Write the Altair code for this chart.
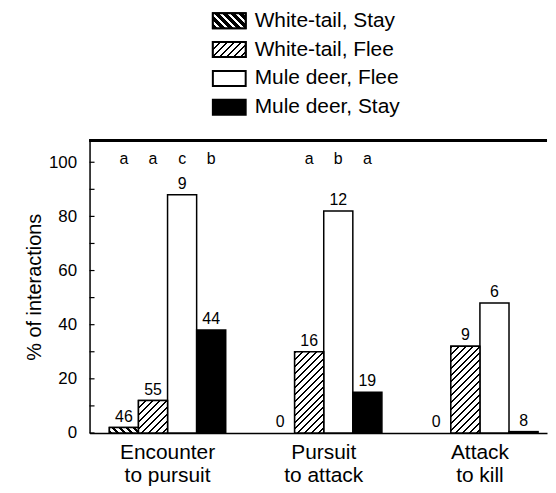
import math
import altair as alt
import pandas as pd

# ---- data ----
stages = ["Encounter to pursuit", "Pursuit to attack", "Attack to kill"]
series = ["White-tail, Stay", "White-tail, Flee", "Mule deer, Flee", "Mule deer, Stay"]

wt_stay = [2, 0, 0]
wt_flee = [12, 30, 32]
md_flee = [88, 82, 48]
md_stay = [38, 15, 0.5]

wt_stay_n = [46, 0, 0]
wt_flee_n = [55, 16, 9]
md_flee_n = [9, 12, 6]
md_stay_n = [44, 19, 8]

enc_letters = ["a", "a", "c", "b"]
pur_letters = ["", "a", "b", "a"]
att_letters = ["", "", "", ""]

y_ticks = [0, 10, 20, 30, 40, 50, 60, 70, 80, 90, 100]
y_labels = [0, 20, 40, 60, 80, 100]

# ---- table ----
vals = [wt_stay, wt_flee, md_flee, md_stay]
ns = [wt_stay_n, wt_flee_n, md_flee_n, md_stay_n]
lets = [enc_letters, pur_letters, att_letters]
rows = []
for i, st in enumerate(stages):
    for j, se in enumerate(series):
        rows.append({"stage": st, "series": se, "value": vals[j][i],
                     "n": ns[j][i], "letter": lets[i][j]})
df = pd.DataFrame(rows)
ticks_df = pd.DataFrame({"value": y_ticks})

# ---- layout ----
W, H, YMAX = 460, 294, 108
P_IN, P_OUT, ALIGN = 0.255, 0.092, 0.69
FONT = "Liberation Sans"
step = W / (3 - P_IN + 2 * P_OUT)
BW = step * (1 - P_IN) / 4


def hatch(w, h, direction, period, dark):
    L = w + h
    s = L * w / (w * w + h * h)
    if direction == "/":
        x1, y1, x2, y2 = 0, 0, s, s * h / w
    else:
        x1, y1, x2, y2 = 0, 1, s, 1 - s * h / w
    stops = []
    k = 0
    while k * period < L:
        a = k * period / L
        b = min((k * period + dark) / L, 1)
        stops.append({"offset": a, "color": "black"})
        stops.append({"offset": b, "color": "black"})
        if b < 1:
            stops.append({"offset": b, "color": "white"})
            nxt = min((k + 1) * period / L, 1)
            stops.append({"offset": nxt, "color": "white"})
        k += 1
    return {"gradient": "linear", "x1": x1, "y1": y1, "x2": x2, "y2": y2, "stops": stops}


xenc = alt.X("stage:N", sort=stages,
             scale=alt.Scale(domain=stages, paddingInner=P_IN, paddingOuter=P_OUT, align=ALIGN),
             axis=alt.Axis(title=None, labelAngle=0, ticks=False, domainColor="black",
                           domainWidth=1.5, labelFontSize=21, labelFont=FONT, labelColor="black",
                           labelPadding=9, labelLineHeight=23, labelBaseline="top",
                           labelExpr="[substring(datum.label, 0, indexof(datum.label, ' to')), "
                                     "substring(datum.label, indexof(datum.label, ' to') + 1)]"))
xoff = alt.XOffset("series:N", sort=series,
                   scale=alt.Scale(domain=series, paddingInner=0, paddingOuter=0))
yenc = alt.Y("value:Q", scale=alt.Scale(domain=[0, YMAX], nice=False),
             axis=alt.Axis(title="% of interactions", values=y_labels, ticks=False, grid=False,
                           domainColor="black", domainWidth=1.5, labelFontSize=17,
                           labelFont=FONT, labelColor="black", labelPadding=13,
                           titleFontSize=20, titleFont=FONT, titleFontWeight="normal",
                           titleColor="black", titlePadding=4))

base = alt.Chart(df)
bars = base.mark_bar(stroke="black", strokeWidth=1.5).encode(
    x=xenc, xOffset=xoff, y=yenc,
    fill=alt.Fill("series:N", scale=alt.Scale(domain=series,
                                              range=["white", "white", "white", "black"]),
                  legend=None),
).transform_filter("datum.value > 0")

layers = [bars]
for i, st in enumerate(stages):
    for j, se in enumerate(series[:2]):
        v = vals[j][i]
        if v <= 0:
            continue
        h = v / YMAX * H
        g = hatch(BW, h, "\\" if j == 0 else "/", 7, 3 if j == 0 else 2)
        layers.append(
            base.mark_bar(fill=g, stroke="black", strokeWidth=1.5).encode(
                x=xenc, xOffset=xoff, y=yenc
            ).transform_filter(
                (alt.datum.stage == st) & (alt.datum.series == se)
            )
        )

counts = base.mark_text(baseline="bottom", dy=-3, fontSize=16, font=FONT, color="black").encode(
    x=xenc, xOffset=xoff, y=yenc, text="n:Q")
letters = base.mark_text(baseline="middle", fontSize=16, font=FONT, color="black").encode(
    x=xenc, xOffset=xoff, y=alt.value(19), text="letter:N")
tick_rules = alt.Chart(ticks_df).mark_rule(color="black", strokeWidth=1.2).encode(
    y=yenc, x=alt.value(0), x2=alt.value(5))
top_line = alt.Chart(ticks_df).mark_rule(color="black", strokeWidth=2).encode(
    y=alt.value(0), x=alt.value(0), x2=alt.value(W))

main = alt.layer(*layers, counts, letters, tick_rules, top_line).properties(width=W, height=H)

# ---- legend panel ----
leg_df = pd.DataFrame({"series": series})
LX0, LW = 124, 33
ley = alt.Y("series:N", sort=series, axis=None,
            scale=alt.Scale(domain=series, paddingInner=0.48, paddingOuter=0.24))
leg_base = alt.Chart(leg_df)
leg_rect = leg_base.mark_rect(stroke="black", strokeWidth=2, yOffset=-4).encode(
    y=ley, x=alt.value(LX0), x2=alt.value(LX0 + LW),
    fill=alt.Fill("series:N", scale=alt.Scale(domain=series,
                                              range=["white", "white", "white", "black"]),
                  legend=None))
leg_h1 = leg_base.mark_rect(stroke="black", strokeWidth=2, yOffset=-4,
                            fill=hatch(LW, 15, "\\", 8, 5)).encode(
    y=ley, x=alt.value(LX0), x2=alt.value(LX0 + LW)).transform_filter(
    alt.datum.series == series[0])
leg_h2 = leg_base.mark_rect(stroke="black", strokeWidth=2, yOffset=-4,
                            fill=hatch(LW, 15, "/", 7, 2)).encode(
    y=ley, x=alt.value(LX0), x2=alt.value(LX0 + LW)).transform_filter(
    alt.datum.series == series[1])
leg_text = leg_base.mark_text(align="left", baseline="middle", fontSize=21, font=FONT,
                              color="black", dy=-4).encode(
    y=ley, x=alt.value(LX0 + LW + 9), text="series:N")
legend = alt.layer(leg_rect, leg_h1, leg_h2, leg_text).properties(width=W, height=116)

chart = alt.vconcat(legend, main, spacing=14).properties(
    padding={"left": 16, "top": 0, "right": 0, "bottom": 0}
).configure_view(stroke=None)

chart.save("out.html", embed_options={"renderer": "svg", "actions": False})
